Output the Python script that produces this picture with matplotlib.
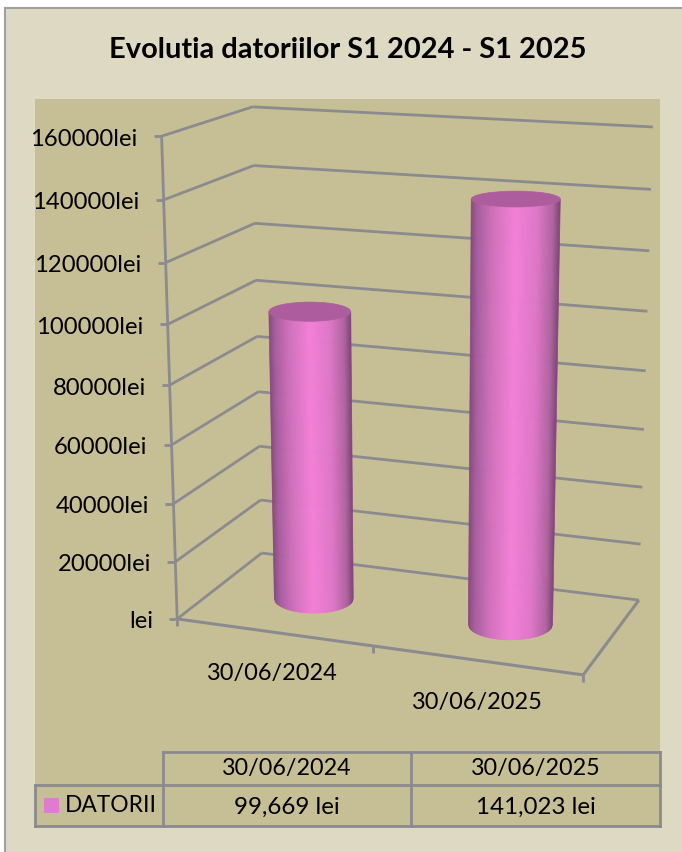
#!/bin/python3

import numpy as np
import matplotlib
matplotlib.use('Agg')
import matplotlib.pyplot as plt
from matplotlib.patches import Ellipse, Polygon, Rectangle
from matplotlib.colors import to_rgb

CATEGORIES = ['30/06/2024', '30/06/2025']
VALUES = [99669, 141023]
VALUE_LABELS = ['99,669 lei', '141,023 lei']
TICKS = [0, 20000, 40000, 60000, 80000, 100000, 120000, 140000, 160000]
TICK_LABELS = ['lei', '20000lei', '40000lei', '60000lei', '80000lei',
               '100000lei', '120000lei', '140000lei', '160000lei']
SERIES = 'DATORII'
TITLE = 'Evolutia datoriilor S1 2024 - S1 2025'
Y_MAX = 160000

OUTER = '#ded9c3'
PLOT_BG = '#c6bf95'
GRID = '#8b8b8f'
TOP_COL = '#ad5d9d'
FONT = 'Lato'

# cube corners (x, depth, value share) -> where they land in the picture
CORNERS = [
    ((0, 0, 0), (177, 619)),
    ((1, 0, 0), (583, 675)),
    ((1, 1, 0), (639, 600)),
    ((0, 1, 0), (262, 553)),
    ((0, 0, 1), (162, 136)),
    ((0, 1, 1), (252, 107)),
    ((1, 1, 1), (653, 127)),
]


def fit_camera(corners):
    rows = []
    for (x, d, u), (px, py) in corners:
        rows.append([x, d, u, 1, 0, 0, 0, 0, -px * x, -px * d, -px * u, -px])
        rows.append([0, 0, 0, 0, x, d, u, 1, -py * x, -py * d, -py * u, -py])
    return np.linalg.svd(np.array(rows))[2][-1].reshape(3, 4)


CAM = fit_camera(CORNERS)


def proj(x, d, v):
    x, d, u = np.broadcast_arrays(x, d, np.asarray(v) / Y_MAX)
    h = CAM @ np.stack([x, d, u, np.ones_like(x, dtype=float)])
    return h[0] / h[2], h[1] / h[2]


def line(ax, p, q, lw=2):
    ax.plot([p[0], q[0]], [p[1], q[1]], color=GRID, lw=lw, solid_capstyle='butt', zorder=2)


def shade(t):
    # dark on both edges, highlight in the middle
    stops = [0, 0.08, 0.25, 0.5, 0.75, 0.92, 1]
    cols = ['#85487c', '#a85ea0', '#d070bc', '#f480d8', '#de76c8', '#b064a0', '#80457a']
    rgb = np.array([to_rgb(c) for c in cols])
    return [np.interp(t, stops, rgb[:, i]) for i in range(3)]


def section(xc, dc, val, rx, rd):
    # the renderer keeps the ellipses level, only their size follows the perspective
    xl, yl = proj(xc - rx, dc, val)
    xr, yr = proj(xc + rx, dc, val)
    _, yf = proj(xc, dc - rd, val)
    _, yb = proj(xc, dc + rd, val)
    return float(xl + xr) / 2, float(yl + yr) / 2, float(xr - xl) / 2, float(yf - yb) / 2


def cylinder(ax, xc, val, rx=0.104, rd=0.21, dc=0.475):
    cx0, cy0, w0, h0 = section(xc, dc, 0, rx, rd)
    cx1, cy1, w1, h1 = section(xc, dc, val, rx, rd)
    f = np.linspace(0, 1, 81)
    for i in range(len(f) - 1):
        a = f[i:i + 2]
        s = 2 * a - 1
        low = np.sqrt(1 - s ** 2)
        bx, by = cx0 + w0 * s, cy0 + h0 * low
        tx, ty = cx1 + w1 * s, cy1 + h1 * low
        pts = [(bx[0], by[0]), (bx[1], by[1]), (tx[1], ty[1]), (tx[0], ty[0])]
        col = shade(a.mean())
        ax.add_patch(Polygon(pts, closed=True, facecolor=col, edgecolor=col, lw=0.5, zorder=3))
    ax.add_patch(Ellipse((cx1, cy1), 2 * w1, 2 * h1, facecolor=TOP_COL, edgecolor=TOP_COL,
                         lw=0.5, zorder=4))


fig = plt.figure(figsize=(6.82, 8.52), dpi=100, facecolor='white')
ax = fig.add_axes([0, 0, 1, 1])
ax.set_xlim(0, 682)
ax.set_ylim(852, 0)
ax.axis('off')

ax.add_patch(Rectangle((5, 8), 680, 850, facecolor=OUTER, edgecolor='#a0a0a0', lw=1.5, zorder=0))
ax.add_patch(Rectangle((35, 99), 625, 728, facecolor=PLOT_BG, edgecolor='none', zorder=1))

ax.text(348, 50, TITLE, ha='center', va='center', fontsize=20.9, fontweight='bold',
        family=FONT, color='black', zorder=6)

# walls, one line for each tick
for tick, lab in zip(TICKS, TICK_LABELS):
    front = proj(0, 0, tick)
    back = proj(0, 1, tick)
    end = proj(1, 1, tick)
    line(ax, front, back)
    line(ax, back, end)
    line(ax, (front[0] - 8, front[1]), front)
    ax.text(front[0] - 24, front[1] + 3, lab, ha='right', va='center', fontsize=17.2,
            family=FONT, color='black', zorder=6)

# left axis and floor
line(ax, proj(0, 0, 0), proj(0, 0, Y_MAX))
line(ax, proj(0, 0, 0), proj(1, 0, 0), lw=2.2)
line(ax, proj(1, 0, 0), proj(1, 1, 0), lw=2.2)
for x in [0, 0.5, 1]:
    p = proj(x, 0, 0)
    line(ax, p, (p[0], p[1] + 7))

for i, (cat, val) in enumerate(zip(CATEGORIES, VALUES)):
    cylinder(ax, 0.253 + 0.502 * i, val)
    p = proj(0.245 + 0.505 * i, 0, 0)
    ax.text(p[0], p[1] + 42, cat, ha='center', va='center', fontsize=16.9,
            family=FONT, color='black', zorder=6)

# data table under the chart
col_x = [35, 163, 411, 660]
row_y = [752, 785, 826]
tbl = dict(color=GRID, lw=2, solid_capstyle='projecting', zorder=5)
ax.plot([col_x[1], col_x[3]], [row_y[0], row_y[0]], **tbl)
ax.plot([col_x[0], col_x[3]], [row_y[1], row_y[1]], **tbl)
ax.plot([col_x[0], col_x[3]], [row_y[2], row_y[2]], **tbl)
ax.plot([col_x[0], col_x[0]], [row_y[1], row_y[2]], **tbl)
for x in col_x[1:]:
    ax.plot([x, x], [row_y[0], row_y[2]], **tbl)
for i in range(2):
    cx = (col_x[i + 1] + col_x[i + 2]) / 2
    ax.text(cx, 768, CATEGORIES[i], ha='center', va='center', fontsize=16.8, family=FONT, zorder=6)
    ax.text(cx, 807, VALUE_LABELS[i], ha='center', va='center', fontsize=17.4, family=FONT, zorder=6)
ax.add_patch(Rectangle((44, 798), 15, 15, facecolor='#e07cd0', edgecolor='none', zorder=6))
ax.text(65, 806, SERIES, ha='left', va='center', fontsize=16.4, family=FONT, zorder=6)

fig.savefig('out.png', dpi=100, facecolor='white')
